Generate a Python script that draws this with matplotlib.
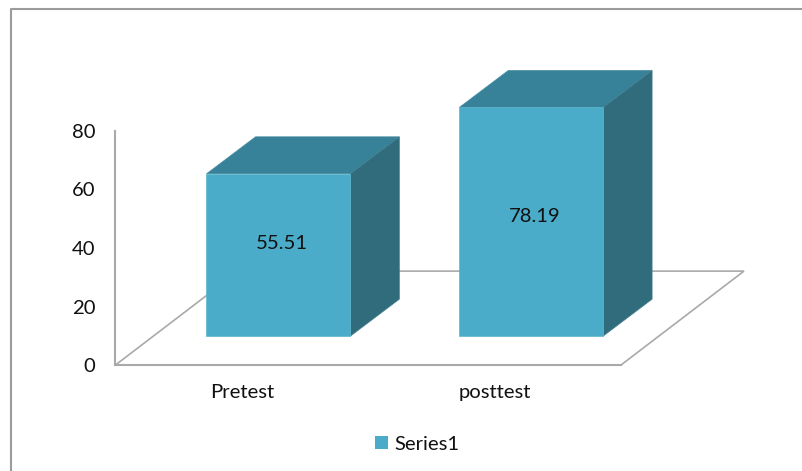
import matplotlib
matplotlib.use("Agg")
import matplotlib.pyplot as plt
from matplotlib.patches import Polygon, Rectangle, Patch

categories = ["Pretest", "posttest"]
values = [55.51, 78.19]
series_name = "Series1"
y_ticks = [0, 20, 40, 60, 80]

W, H = 803, 471
FRONT, TOP, SIDE = "#4AACC8", "#388299", "#316C7C"
AXIS_GRAY = "#A9A9A9"
FRAME_GRAY = "#9B9B9B"
TEXT = "#111111"
FONT_SIZE = 14.6

plt.rcParams["font.family"] = ["Lato", "DejaVu Sans"]
fig = plt.figure(figsize=(W / 100, H / 100), dpi=100, facecolor="white")

# Plot area of the front floor edge, in figure fractions
left, right, bottom_px, top_px = 115.5, 621.0, 365.0, 131.0
ax = fig.add_axes([left / W, 1 - bottom_px / H, (right - left) / W, (bottom_px - top_px) / H])
ax.set_xlim(-0.5, 1.5)
ax.set_ylim(0, 80)
ax.patch.set_visible(False)

# Oblique projection of the floor, and the bar placement on it (data units)
floor_dx, floor_dy = 0.4866, 32.1
bar_dx, bar_dy = 0.194, 12.65
inset_x, inset_y = 0.1445, 9.85
bar_w = 0.569

for s in ("top", "right"):
    ax.spines[s].set_visible(False)
for s in ("left", "bottom"):
    ax.spines[s].set_color(AXIS_GRAY)
    ax.spines[s].set_linewidth(1.5)

# Floor outline, drawn beneath the bars
ax.add_patch(Polygon([(-0.5, 0), (1.5, 0), (1.5 + floor_dx, floor_dy), (-0.5 + floor_dx, floor_dy)],
                     closed=True, fill=False, edgecolor=AXIS_GRAY, linewidth=1.2,
                     clip_on=False, zorder=1))

# Extruded bars: front, top and side faces
label_offsets = [(3.5, 12), (4, 5)]
for i, v in enumerate(values):
    x0 = i + inset_x - bar_w / 2
    x1 = x0 + bar_w
    y0 = inset_y
    y1 = inset_y + v
    edge = dict(clip_on=False, zorder=3, linewidth=0.5, joinstyle="miter")
    ax.add_patch(Polygon([(x0, y1), (x1, y1), (x1 + bar_dx, y1 + bar_dy), (x0 + bar_dx, y1 + bar_dy)],
                         closed=True, facecolor=TOP, edgecolor="#458DA3", **edge))
    ax.add_patch(Polygon([(x1, y0), (x1 + bar_dx, y0 + bar_dy), (x1 + bar_dx, y1 + bar_dy), (x1, y1)],
                         closed=True, facecolor=SIDE, edgecolor="#437E8E", **edge))
    ax.add_patch(Rectangle((x0, y0), bar_w, v, facecolor=FRONT, edgecolor="#5BB6CF", **edge))
    ax.annotate(f"{v:.2f}", xy=((x0 + x1) / 2, y0 + v / 2), xytext=label_offsets[i],
                textcoords="offset pixels", ha="center", va="center",
                fontsize=FONT_SIZE, color=TEXT, zorder=5)

ax.set_xticks(range(len(categories)), categories)
ax.set_yticks(y_ticks)
ax.tick_params(axis="x", length=0, pad=14, labelsize=FONT_SIZE, labelcolor=TEXT)
ax.tick_params(axis="y", length=0, pad=14.5, labelsize=FONT_SIZE, labelcolor=TEXT)

# Legend below the plot
fig.legend(handles=[Patch(facecolor=FRONT, label=series_name)], loc="center",
           bbox_to_anchor=(417 / W, 1 - 444 / H), frameon=False, fontsize=FONT_SIZE,
           handlelength=0.63, handleheight=0.63, handletextpad=0.3, labelcolor=TEXT)

# Chart border, open at the image's right and bottom edges
fig.add_artist(plt.Line2D([11.5 / W, 11.5 / W, 1], [0, 1 - 9 / H, 1 - 9 / H],
                          color=FRAME_GRAY, linewidth=1.5, transform=fig.transFigure))

fig.savefig("out.png", dpi=100)
